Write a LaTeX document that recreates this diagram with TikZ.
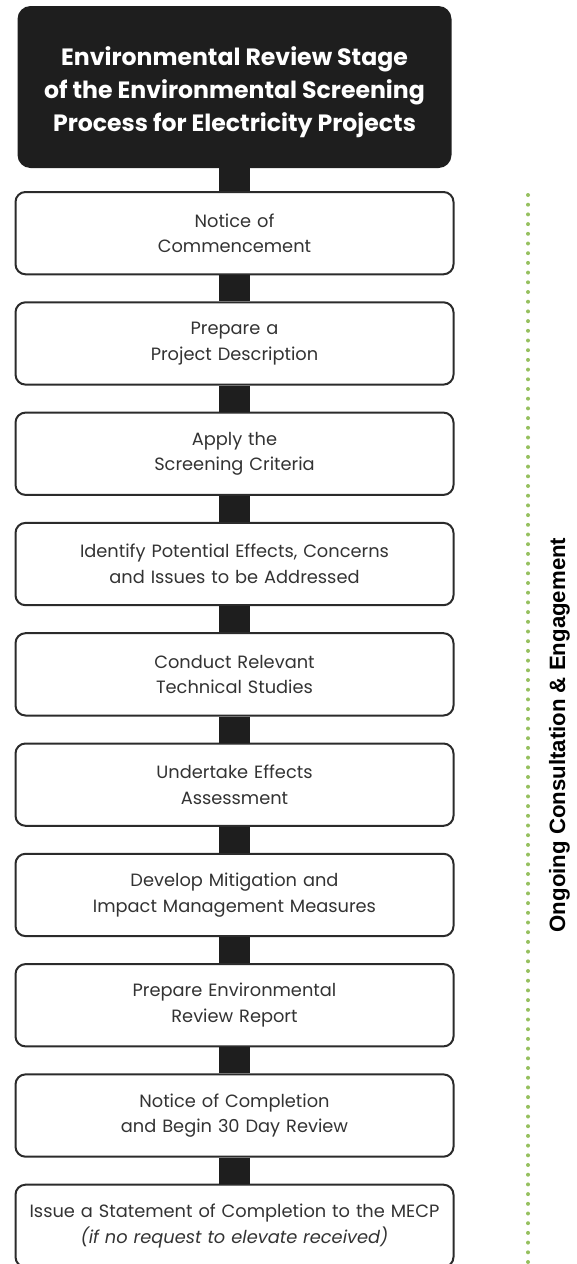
\documentclass[tikz,border=0pt]{standalone}
\usepackage{fontspec}
\setmainfont{Poppins}
\newfontfamily\sidefont{Liberation Sans}
\usetikzlibrary{positioning}

\definecolor{titlebg}{HTML}{1E1E1E}
\definecolor{boxline}{HTML}{2B2B2B}
\definecolor{boxtext}{HTML}{333333}
\definecolor{dotgreen}{RGB}{150,192,95}

\tikzset{
  titlebox/.style={rectangle, rounded corners=13pt, fill=titlebg,
    minimum width=434pt, minimum height=162pt},
  titletext/.style={text=white, align=center,
    font=\bfseries\fontsize{23.6}{33}\selectfont},
  stepbox/.style={rectangle, rounded corners=10pt, draw=boxline, line width=2pt,
    fill=white, text=boxtext, minimum width=438pt, minimum height=82.3pt,
    text width=430pt, align=center, font=\fontsize{17.8}{25.6}\selectfont},
  link/.style={line width=31pt, draw=titlebg},
  dotline/.style={draw=dotgreen, line width=4pt, line cap=round,
    dash pattern=on 0pt off 9.7pt},
}

\begin{document}
\begin{tikzpicture}[x=1pt,y=1pt,node distance=26pt]
\useasboundingbox (0,0) rectangle (577,-1264);

% heading
\node[titlebox] (title) at (234.5,-87) {};
\node[titletext] (heading) at ([yshift=-5pt]title.center) {Environmental Review Stage\\of the Environmental Screening\\Process for Electricity Projects};

% steps
\coordinate (start) at (234.5,-191);
\node[stepbox, below=0pt of start] (s1) {Notice of\\Commencement};
\node[stepbox, below=of s1] (s2) {Prepare a\\Project Description};
\node[stepbox, below=of s2] (s3) {Apply the\\Screening Criteria};
\node[stepbox, below=of s3] (s4) {Identify Potential Effects, Concerns\\and Issues to be Addressed};
\node[stepbox, below=of s4] (s5) {Conduct Relevant\\Technical Studies};
\node[stepbox, below=of s5] (s6) {Undertake Effects\\Assessment};
\node[stepbox, below=of s6] (s7) {Develop Mitigation and\\Impact Management Measures};
\node[stepbox, below=of s7] (s8) {Prepare Environmental\\Review Report};
\node[stepbox, below=of s8] (s9) {Notice of Completion\\and Begin 30 Day Review};
\node[stepbox, below=of s9] (s10) {Issue a Statement of Completion to the MECP\\\textit{(if no request to elevate received)}};

% links between the steps
\draw[link] (title.south) -- (s1.north);
\draw[link] (s1.south) -- (s2.north);
\draw[link] (s2.south) -- (s3.north);
\draw[link] (s3.south) -- (s4.north);
\draw[link] (s4.south) -- (s5.north);
\draw[link] (s5.south) -- (s6.north);
\draw[link] (s6.south) -- (s7.north);
\draw[link] (s7.south) -- (s8.north);
\draw[link] (s8.south) -- (s9.north);
\draw[link] (s9.south) -- (s10.north);

% consultation runs alongside
\coordinate (dtop) at (528,-195);
\coordinate (dbot) at (528,-1264);
\draw[dotline] (dtop) -- (dbot);
\node[rotate=90, anchor=base, inner sep=0pt, font=\sidefont\bfseries\fontsize{22.2}{26}\selectfont] (side) at (565,-735) {Ongoing Consultation \& Engagement};
\end{tikzpicture}
\end{document}
